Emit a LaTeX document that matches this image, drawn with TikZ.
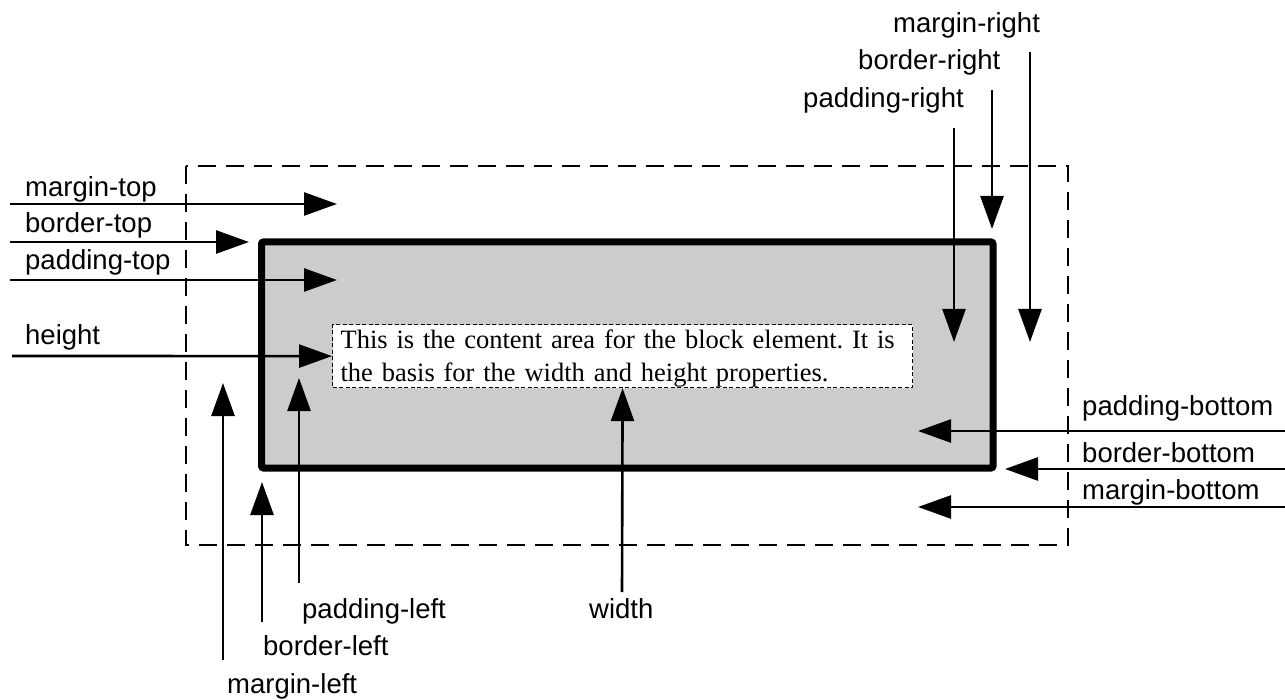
\documentclass[tikz,border=0pt]{standalone}
\usepackage{fontspec}
\setmainfont{Liberation Serif}
\setsansfont{Liberation Sans}
\usetikzlibrary{arrows.meta}
\frenchspacing
\definecolor{boxgray}{RGB}{204,204,204}
\tikzset{
  lbl/.style={anchor=base west, inner sep=0pt, font=\sffamily\fontsize{27.5}{33}\selectfont},
  ptr/.style={line width=2.6pt, -{Triangle[length=33pt,width=23pt]}},
}
\begin{document}
\begin{tikzpicture}[x=1pt,y=-1pt]
\useasboundingbox (0,0) rectangle (1285,700);

%Shape: margin box
\draw [line width=2pt, dash pattern=on 18pt off 10pt] (186,166) rectangle (1068,545);
%Shape: border box
\draw [fill=boxgray, line width=7pt, rounded corners=2pt] (261.5,242) rectangle (993,468);
%Shape: content area
\node (content) [draw, fill=white, line width=1.2pt, dash pattern=on 4pt off 2.5pt, anchor=north west,
  text width=564pt, inner xsep=8pt, inner ysep=0pt, minimum height=63pt, align=left,
  font=\fontsize{26.5}{33}\selectfont] at (332,324)
  {\rule{0pt}{24pt}This is the content area for the block element. It is\\the basis for the width and height properties.};

% Text Node
\node (mtop) [lbl] at (25,197) {margin-top};
% Text Node
\node (btop) [lbl] at (25,233) {border-top};
% Text Node
\node (ptop) [lbl] at (25,270) {padding-top};
% Text Node
\node (hgt) [lbl] at (25,345) {height};
% Text Node
\node (mright) [lbl] at (893,33) {margin-right};
% Text Node
\node (bright) [lbl] at (858,70) {border-right};
% Text Node
\node (pright) [lbl] at (803,108) {padding-right};
% Text Node
\node (pbot) [lbl] at (1082,415) {padding-bottom};
% Text Node
\node (bbot) [lbl] at (1082,462) {border-bottom};
% Text Node
\node (mbot) [lbl] at (1082,499) {margin-bottom};
% Text Node
\node (pleft) [lbl] at (302,618) {padding-left};
% Text Node
\node (bleft) [lbl] at (263,655) {border-left};
% Text Node
\node (mleft) [lbl] at (227,693) {margin-left};
% Text Node
\node (wdt) [lbl] at (589,618) {width};

% arrow ends
\coordinate (mtopS) at (10,204);    \coordinate (mtopE) at (337,204);
\coordinate (btopS) at (10,242);    \coordinate (btopE) at (249,242);
\coordinate (ptopS) at (10,280);    \coordinate (ptopE) at (337,280);
\coordinate (hgtS) at (12,356);
\coordinate (mleftS) at (223,660);  \coordinate (mleftE) at (223,383);
\coordinate (bleftS) at (262,622);  \coordinate (bleftE) at (262,482);
\coordinate (pleftS) at (299,583);  \coordinate (pleftE) at (299,378);
\coordinate (wdtS) at (622,592);
\coordinate (prightS) at (954,128); \coordinate (prightE) at (954,342);
\coordinate (brightS) at (992,90);  \coordinate (brightE) at (992,229);
\coordinate (mrightS) at (1030,52); \coordinate (mrightE) at (1030,342);
\coordinate (pbotS) at (1285,431);  \coordinate (pbotE) at (918,431);
\coordinate (bbotS) at (1285,469);  \coordinate (bbotE) at (1005,469);
\coordinate (mbotS) at (1285,507);  \coordinate (mbotE) at (918,507);

\draw [ptr] (mtopS) -- (mtopE);
\draw [ptr] (btopS) -- (btopE);
\draw [ptr] (ptopS) -- (ptopE);
\draw [ptr] (hgtS) -- (content.west);
\draw [ptr] (mleftS) -- (mleftE);
\draw [ptr] (bleftS) -- (bleftE);
\draw [ptr] (pleftS) -- (pleftE);
\draw [ptr] (wdtS) -- (content.south);
\draw [ptr] (prightS) -- (prightE);
\draw [ptr] (brightS) -- (brightE);
\draw [ptr] (mrightS) -- (mrightE);
\draw [ptr] (pbotS) -- (pbotE);
\draw [ptr] (bbotS) -- (bbotE);
\draw [ptr] (mbotS) -- (mbotE);

\end{tikzpicture}
\end{document}
